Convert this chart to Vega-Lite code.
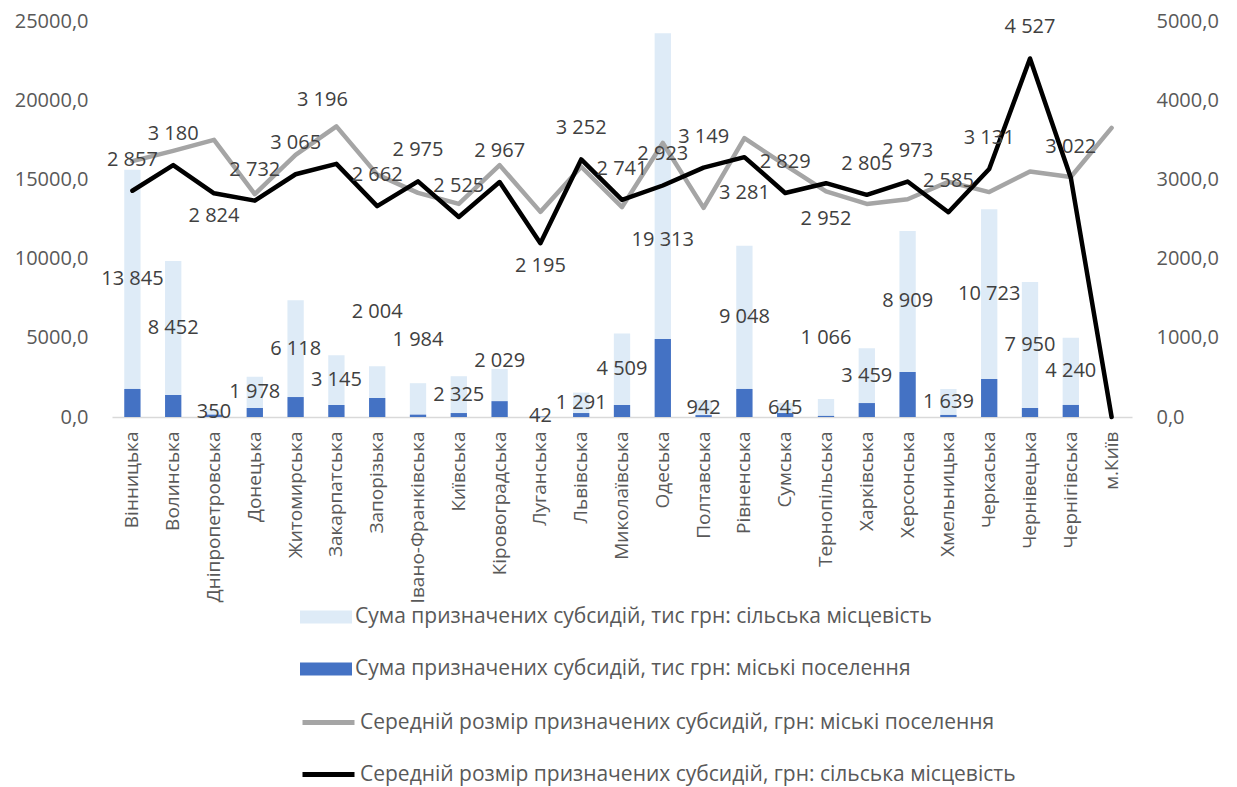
{
  "$schema": "https://vega.github.io/schema/vega-lite/v6.json",
  "width": 1020,
  "height": 396,
  "autosize": {"type": "none"},
  "padding": {"left": 112, "top": 21, "right": 105, "bottom": 370},
  "background": "white",
  "config": {
    "font": "Open Sans",
    "view": {"stroke": null},
    "locale": {"number": {"decimal": ",", "thousands": " ", "grouping": [3], "currency": ["", ""]}},
    "axis": {"grid": false, "ticks": false, "labelFont": "Open Sans", "labelFontSize": 20, "labelColor": "#595959", "title": null},
    "legend": {"labelFont": "Open Sans", "labelFontSize": 21, "labelColor": "#595959", "padding": 0, "labelLimit": 900}
  },
  "datasets": {
    "regions": [
      {"region": "Вінницька", "urban_sum": 1770, "rural_sum": 13845, "urban_avg": 3230, "rural_avg": 2857},
      {"region": "Волинська", "urban_sum": 1390, "rural_sum": 8452, "urban_avg": 3360, "rural_avg": 3180},
      {"region": "Дніпропетровська", "urban_sum": 150, "rural_sum": 350, "urban_avg": 3500, "rural_avg": 2824},
      {"region": "Донецька", "urban_sum": 570, "rural_sum": 1978, "urban_avg": 2815, "rural_avg": 2732},
      {"region": "Житомирська", "urban_sum": 1260, "rural_sum": 6118, "urban_avg": 3310, "rural_avg": 3065},
      {"region": "Закарпатська", "urban_sum": 760, "rural_sum": 3145, "urban_avg": 3670, "rural_avg": 3196},
      {"region": "Запорізька", "urban_sum": 1200, "rural_sum": 2004, "urban_avg": 3060, "rural_avg": 2662},
      {"region": "Івано-Франківська", "urban_sum": 150, "rural_sum": 1984, "urban_avg": 2830, "rural_avg": 2975},
      {"region": "Київська", "urban_sum": 250, "rural_sum": 2325, "urban_avg": 2690, "rural_avg": 2525},
      {"region": "Кіровоградська", "urban_sum": 1000, "rural_sum": 2029, "urban_avg": 3180, "rural_avg": 2967},
      {"region": "Луганська", "urban_sum": 30, "rural_sum": 42, "urban_avg": 2590, "rural_avg": 2195},
      {"region": "Львівська", "urban_sum": 250, "rural_sum": 1291, "urban_avg": 3160, "rural_avg": 3252},
      {"region": "Миколаївська", "urban_sum": 760, "rural_sum": 4509, "urban_avg": 2650, "rural_avg": 2741},
      {"region": "Одеська", "urban_sum": 4920, "rural_sum": 19313, "urban_avg": 3460, "rural_avg": 2923},
      {"region": "Полтавська", "urban_sum": 120, "rural_sum": 942, "urban_avg": 2640, "rural_avg": 3149},
      {"region": "Рівненська", "urban_sum": 1770, "rural_sum": 9048, "urban_avg": 3520, "rural_avg": 3281},
      {"region": "Сумська", "urban_sum": 250, "rural_sum": 645, "urban_avg": 3180, "rural_avg": 2829},
      {"region": "Тернопільська", "urban_sum": 70, "rural_sum": 1066, "urban_avg": 2850, "rural_avg": 2952},
      {"region": "Харківська", "urban_sum": 880, "rural_sum": 3459, "urban_avg": 2690, "rural_avg": 2805},
      {"region": "Херсонська", "urban_sum": 2840, "rural_sum": 8909, "urban_avg": 2750, "rural_avg": 2973},
      {"region": "Хмельницька", "urban_sum": 130, "rural_sum": 1639, "urban_avg": 2970, "rural_avg": 2585},
      {"region": "Черкаська", "urban_sum": 2400, "rural_sum": 10723, "urban_avg": 2840, "rural_avg": 3131},
      {"region": "Чернівецька", "urban_sum": 570, "rural_sum": 7950, "urban_avg": 3100, "rural_avg": 4527},
      {"region": "Чернігівська", "urban_sum": 760, "rural_sum": 4240, "urban_avg": 3030, "rural_avg": 3022},
      {"region": "м.Київ", "urban_sum": 0, "rural_sum": 0, "urban_avg": 3650, "rural_avg": 0}
    ]
  },
  "data": {"name": "regions"},
  "encoding": {
    "x": {
      "field": "region", "type": "nominal", "sort": null,
      "scale": {"paddingInner": 0.6, "paddingOuter": 0.3},
      "axis": {"labelAngle": -90, "labelPadding": 14, "labelFontSize": 19, "domainColor": "#D9D9D9", "domainWidth": 1.5, "title": null, "labelLimit": 300}
    }
  },
  "layer": [
    {
      "transform": [{"fold": ["rural_sum", "urban_sum"], "as": ["key", "value"]}],
      "encoding": {
        "y": {
          "field": "value", "type": "quantitative", "stack": "zero",
          "scale": {"domain": [0, 25000]},
          "axis": {"values": [0, 5000, 10000, 15000, 20000, 25000], "format": ".1f", "domain": false, "labelPadding": 24, "title": null}
        },
        "order": {"field": "key", "sort": "descending"}
      },
      "layer": [
        {
          "mark": {"type": "bar"},
          "encoding": {
            "color": {
              "field": "key", "type": "nominal",
              "scale": {"domain": ["rural_sum", "urban_sum"], "range": ["#DEEBF7", "#4472C4"]},
              "legend": {
                "orient": "none", "legendX": 188, "legendY": 570, "title": null,
                "symbolType": "M-1,-0.25H1V0.25H-1Z", "symbolSize": 2704, "symbolStrokeWidth": 0,
                "rowPadding": 16, "labelOffset": 3,
                "labelExpr": "datum.label == 'rural_sum' ? 'Сума призначених субсидій, тис грн: сільська місцевість' : 'Сума призначених субсидій, тис грн: міські поселення'"
              }
            }
          }
        },
        {
          "mark": {"type": "text", "fontSize": 20, "color": "#404040", "font": "Open Sans"},
          "encoding": {
            "y": {"field": "value", "type": "quantitative", "stack": "zero", "bandPosition": 0.5},
            "detail": {"field": "key"},
            "text": {
              "condition": {"test": "datum.key == 'rural_sum' && indexof(['Запорізька','Івано-Франківська','Тернопільська','Кіровоградська','Одеська','м.Київ'], datum.region) < 0", "field": "value", "type": "quantitative", "format": ",d"},
              "value": ""
            }
          }
        },
        {
          "mark": {"type": "text", "fontSize": 20, "color": "#404040", "font": "Open Sans", "dy": 54},
          "encoding": {
            "y": {"field": "value", "type": "quantitative", "stack": "zero", "bandPosition": 0.5},
            "detail": {"field": "key"},
            "text": {
              "condition": {"test": "datum.key == 'rural_sum' && datum.region == 'Одеська'", "field": "value", "type": "quantitative", "format": ",d"},
              "value": ""
            }
          }
        },
        {
          "mark": {"type": "text", "fontSize": 20, "color": "#404040", "font": "Open Sans", "dy": -54},
          "encoding": {
            "y": {"field": "value", "type": "quantitative", "stack": "zero"},
            "detail": {"field": "key"},
            "text": {
              "condition": {"test": "datum.key == 'rural_sum' && datum.region == 'Запорізька'", "field": "value", "type": "quantitative", "format": ",d"},
              "value": ""
            }
          }
        },
        {
          "mark": {"type": "text", "fontSize": 20, "color": "#404040", "font": "Open Sans", "dy": -43},
          "encoding": {
            "y": {"field": "value", "type": "quantitative", "stack": "zero"},
            "detail": {"field": "key"},
            "text": {
              "condition": {"test": "datum.key == 'rural_sum' && datum.region == 'Івано-Франківська'", "field": "value", "type": "quantitative", "format": ",d"},
              "value": ""
            }
          }
        },
        {
          "mark": {"type": "text", "fontSize": 20, "color": "#404040", "font": "Open Sans", "dy": -61},
          "encoding": {
            "y": {"field": "value", "type": "quantitative", "stack": "zero"},
            "detail": {"field": "key"},
            "text": {
              "condition": {"test": "datum.key == 'rural_sum' && datum.region == 'Тернопільська'", "field": "value", "type": "quantitative", "format": ",d"},
              "value": ""
            }
          }
        },
        {
          "mark": {"type": "text", "fontSize": 20, "color": "#404040", "font": "Open Sans", "dy": -8},
          "encoding": {
            "y": {"field": "value", "type": "quantitative", "stack": "zero"},
            "detail": {"field": "key"},
            "text": {
              "condition": {"test": "datum.key == 'rural_sum' && datum.region == 'Кіровоградська'", "field": "value", "type": "quantitative", "format": ",d"},
              "value": ""
            }
          }
        }
      ]
    },
    {
      "layer": [
        {
          "mark": {"type": "line", "strokeWidth": 4.5, "strokeJoin": "round", "strokeCap": "round"},
          "encoding": {
            "y": {
              "field": "urban_avg", "type": "quantitative",
              "scale": {"domain": [0, 5000]},
              "axis": {"orient": "right", "values": [0, 500, 1000, 1500, 2000, 2500, 3000, 3500, 4000, 4500, 5000], "format": ".1f", "domain": false, "labelPadding": 24, "title": null}
            },
            "stroke": {
              "datum": "Середній розмір призначених  субсидій, грн: міські поселення",
              "scale": {"domain": ["Середній розмір призначених  субсидій, грн: міські поселення", "Середній розмір призначених  субсидій, грн: сільська місцевість"], "range": ["#A5A5A5", "#000000"]},
              "legend": {
                "orient": "none", "legendX": 188, "legendY": 673, "title": null,
                "symbolType": "stroke", "symbolSize": 2704, "symbolStrokeWidth": 5,
                "rowPadding": 13, "labelOffset": 3
              }
            }
          }
        },
        {
          "mark": {"type": "line", "strokeWidth": 4.5, "strokeJoin": "round", "strokeCap": "round"},
          "encoding": {
            "y": {"field": "rural_avg", "type": "quantitative"},
            "stroke": {"datum": "Середній розмір призначених  субсидій, грн: сільська місцевість"}
          }
        },
        {
          "transform": [{"filter": {"not": {"field": "region", "oneOf": ["Дніпропетровська", "Луганська", "Рівненська", "Тернопільська", "Закарпатська", "м.Київ"]}}}],
          "mark": {"type": "text", "fontSize": 20, "color": "#404040", "font": "Open Sans", "dy": -31},
          "encoding": {
            "y": {"field": "rural_avg", "type": "quantitative"},
            "text": {"field": "rural_avg", "type": "quantitative", "format": ",d"}
          }
        },
        {
          "transform": [{"filter": {"field": "region", "equal": "Закарпатська"}}],
          "mark": {"type": "text", "fontSize": 20, "color": "#404040", "font": "Open Sans", "dy": -64, "dx": -14},
          "encoding": {
            "y": {"field": "rural_avg", "type": "quantitative"},
            "text": {"field": "rural_avg", "type": "quantitative", "format": ",d"}
          }
        },
        {
          "transform": [{"filter": {"field": "region", "oneOf": ["Дніпропетровська", "Луганська"]}}],
          "mark": {"type": "text", "fontSize": 20, "color": "#404040", "font": "Open Sans", "dy": 23},
          "encoding": {
            "y": {"field": "rural_avg", "type": "quantitative"},
            "text": {"field": "rural_avg", "type": "quantitative", "format": ",d"}
          }
        },
        {
          "transform": [{"filter": {"field": "region", "oneOf": ["Рівненська", "Тернопільська"]}}],
          "mark": {"type": "text", "fontSize": 20, "color": "#404040", "font": "Open Sans", "dy": 36},
          "encoding": {
            "y": {"field": "rural_avg", "type": "quantitative"},
            "text": {"field": "rural_avg", "type": "quantitative", "format": ",d"}
          }
        }
      ]
    }
  ],
  "resolve": {"scale": {"y": "independent", "stroke": "independent", "color": "independent"}}
}
